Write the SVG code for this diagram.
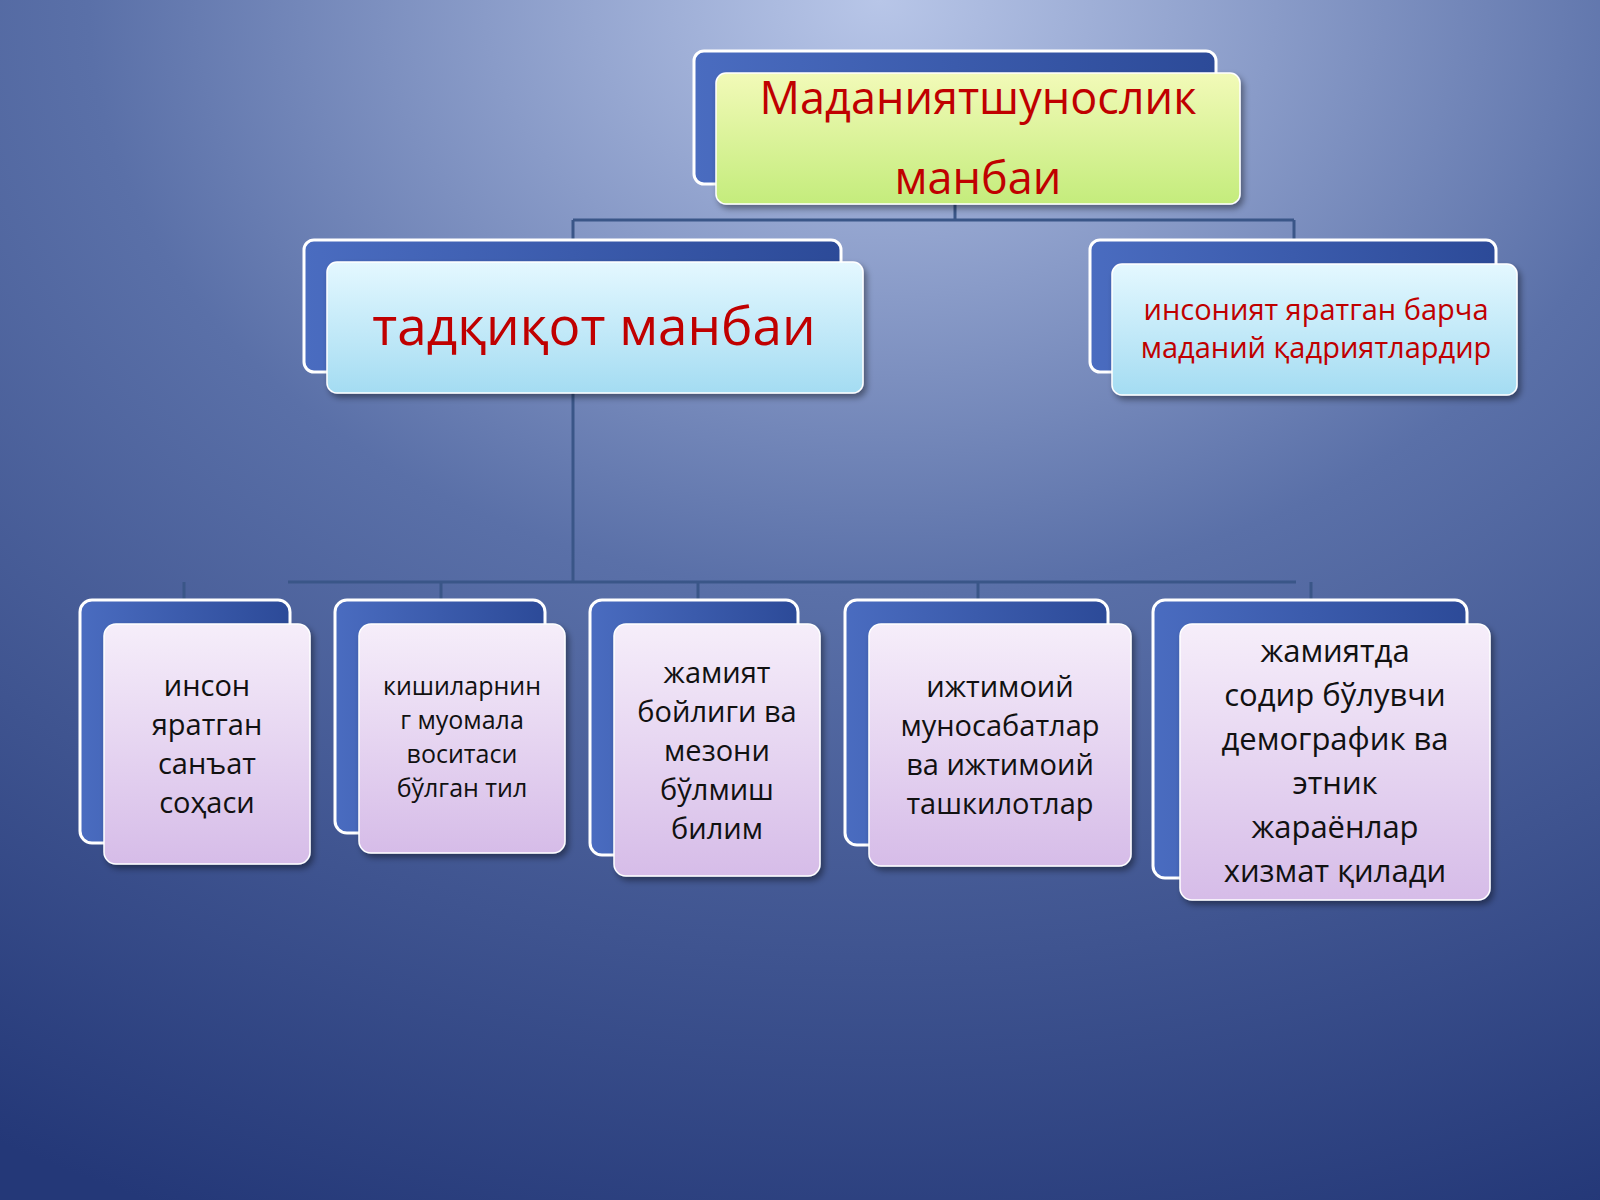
<svg xmlns="http://www.w3.org/2000/svg" width="1600" height="1200" viewBox="0 0 1600 1200">
<defs>
<radialGradient id="bg" cx="0.55" cy="0" r="1.1">
<stop offset="0" stop-color="#b8c6e8"/><stop offset="0.45" stop-color="#5a70a8"/><stop offset="1" stop-color="#243878"/>
</radialGradient>
<linearGradient id="gy" x1="0" y1="0" x2="0" y2="1"><stop offset="0" stop-color="#f2fab8"/><stop offset="1" stop-color="#c4ec7c"/></linearGradient>
<linearGradient id="gc" x1="0" y1="0" x2="0" y2="1"><stop offset="0" stop-color="#e4f8ff"/><stop offset="1" stop-color="#a4dcf2"/></linearGradient>
<linearGradient id="gl" x1="0" y1="0" x2="0" y2="1"><stop offset="0" stop-color="#f6eefa"/><stop offset="1" stop-color="#d6bce8"/></linearGradient>
<linearGradient id="gb" x1="0" y1="0" x2="1" y2="0"><stop offset="0" stop-color="#4a6cc0"/><stop offset="1" stop-color="#2c4a98"/></linearGradient>
<filter id="sh" x="-10%" y="-10%" width="130%" height="130%"><feDropShadow dx="3" dy="4" stdDeviation="3" flood-color="#000" flood-opacity="0.4"/></filter>
</defs>
<style>
.back{fill:url(#gb);stroke:#fff;stroke-width:3}
.f{filter:url(#sh);stroke:#fff;stroke-width:1.5}
.red{fill:#c00000;font-family:"Open Sans","DejaVu Sans",sans-serif;text-anchor:middle;font-weight:500}
.blk{fill:#111;font-family:"Open Sans","DejaVu Sans",sans-serif;text-anchor:middle;font-weight:500}
.c{stroke:#3a5688;stroke-width:3;fill:none}
</style>
<rect width="1600" height="1200" fill="url(#bg)"/>
<g id="connectors">
<path class="c" d="M955 204V220M573 220H1294M573 220V240M1294 220V240"/>
<path class="c" d="M573 393V582M288 582H1296M184 582V600M441 582V600M698 582V600M978 582V600M1311 582V600"/>
</g>
<g id="top">
<rect class="back" x="694" y="51" width="522" height="133" rx="10"/>
<rect class="f" x="716" y="73" width="524" height="131" rx="10" fill="url(#gy)"/>
<text class="red" font-size="45" x="978" y="114">Маданиятшунослик</text>
<text class="red" font-size="45" x="978" y="194">манбаи</text>
</g>
<g id="tadqiqot">
<rect class="back" x="304" y="240" width="537" height="132" rx="10"/>
<rect class="f" x="327" y="262" width="536" height="131" rx="10" fill="url(#gc)"/>
<text class="red" font-size="53" x="594" y="345">тадқиқот манбаи</text>
</g>
<g id="insoniyat">
<rect class="back" x="1090" y="240" width="406" height="132" rx="10"/>
<rect class="f" x="1112" y="264" width="405" height="131" rx="10" fill="url(#gc)"/>
<text class="red" font-size="29" x="1316" y="320">инсоният яратган барча</text>
<text class="red" font-size="29" x="1316" y="358">маданий қадриятлардир</text>
</g>
<g id="n1">
<rect class="back" x="80" y="600" width="210" height="243" rx="12"/>
<rect class="f" x="104" y="624" width="206" height="240" rx="12" fill="url(#gl)"/>
<text class="blk" font-size="29" x="207"><tspan x="207" y="696">инсон</tspan><tspan x="207" y="735">яратган</tspan><tspan x="207" y="774">санъат</tspan><tspan x="207" y="813">соҳаси</tspan></text>
</g>
<g id="n2">
<rect class="back" x="335" y="600" width="210" height="233" rx="12"/>
<rect class="f" x="359" y="624" width="206" height="229" rx="12" fill="url(#gl)"/>
<text class="blk" font-size="25" x="462"><tspan x="462" y="695">кишиларнин</tspan><tspan x="462" y="729">г муомала</tspan><tspan x="462" y="763">воситаси</tspan><tspan x="462" y="797">бўлган тил</tspan></text>
</g>
<g id="n3">
<rect class="back" x="590" y="600" width="208" height="255" rx="12"/>
<rect class="f" x="614" y="624" width="206" height="252" rx="12" fill="url(#gl)"/>
<text class="blk" font-size="29" x="717"><tspan x="717" y="683">жамият</tspan><tspan x="717" y="722">бойлиги ва</tspan><tspan x="717" y="761">мезони</tspan><tspan x="717" y="800">бўлмиш</tspan><tspan x="717" y="839">билим</tspan></text>
</g>
<g id="n4">
<rect class="back" x="845" y="600" width="263" height="245" rx="12"/>
<rect class="f" x="869" y="624" width="262" height="242" rx="12" fill="url(#gl)"/>
<text class="blk" font-size="29" x="1000"><tspan x="1000" y="697">ижтимоий</tspan><tspan x="1000" y="736">муносабатлар</tspan><tspan x="1000" y="775">ва ижтимоий</tspan><tspan x="1000" y="814">ташкилотлар</tspan></text>
</g>
<g id="n5">
<rect class="back" x="1153" y="600" width="314" height="278" rx="12"/>
<rect class="f" x="1180" y="624" width="310" height="276" rx="12" fill="url(#gl)"/>
<text class="blk" font-size="31" x="1335"><tspan x="1335" y="662">жамиятда</tspan><tspan x="1335" y="706">содир бўлувчи</tspan><tspan x="1335" y="750">демографик ва</tspan><tspan x="1335" y="794">этник</tspan><tspan x="1335" y="838">жараёнлар</tspan><tspan x="1335" y="882">хизмат қилади</tspan></text>
</g>
</svg>
